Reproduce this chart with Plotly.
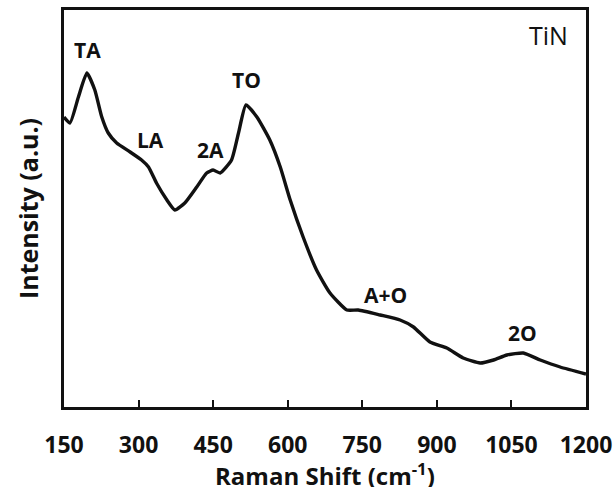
import plotly.graph_objects as go

# Raman shift (cm-1) and intensity (a.u.)
shift = [150, 162, 179, 196, 212, 226, 239, 256, 283, 306, 320, 336, 357, 373,
         393, 417, 437, 450, 464, 487, 501, 516, 538, 564, 585, 605, 631, 658,
         685, 719, 742, 786, 826, 853, 886, 920, 953, 987, 1014, 1041, 1074,
         1108, 1148, 1200]
intensity = [290, 284, 310, 334, 317, 290, 274, 264, 255, 247, 240, 224, 207, 197,
             204, 220, 234, 237, 234, 247, 274, 302, 290, 267, 240, 207, 170, 137,
             114, 97, 97, 92, 87, 80, 65, 59, 49, 44, 47, 52, 54,
             47, 40, 33]

peak_labels = ["TA", "LA", "2A", "TO", "A+O", "2O"]
peak_x = [198, 323, 444, 518, 796, 1073]
peak_y = [357, 267, 257, 327, 112, 74]

x_ticks = [150, 300, 450, 600, 750, 900, 1050, 1200]

FONT = "'Open Sans', Lato, sans-serif"
INK = "#111111"

fig = go.Figure()
fig.add_trace(go.Scatter(x=shift, y=intensity, mode="lines",
                         line=dict(color=INK, width=3.4, shape="spline", smoothing=0.5),
                         showlegend=False, hoverinfo="skip"))

for t, xv, yv in zip(peak_labels, peak_x, peak_y):
    fig.add_annotation(x=xv, y=yv, text="<b>%s</b>" % t, showarrow=False,
                       font=dict(family=FONT, size=21, color=INK))

fig.add_annotation(x=1124, y=372, text="TiN", showarrow=False,
                   font=dict(family=FONT, size=25, color=INK))

# x-axis title placed below the tick labels
fig.add_annotation(xref="paper", yref="paper", x=0.5, y=-0.169,
                   xanchor="center", yanchor="middle", showarrow=False,
                   text="<b>Raman Shift (cm<sup>-1</sup>)</b>",
                   font=dict(family=FONT, size=24, color=INK))

fig.update_layout(
    width=615, height=487,
    margin=dict(l=64, r=29, t=10, b=80),
    paper_bgcolor="white", plot_bgcolor="white",
    font=dict(family=FONT, color=INK),
    xaxis=dict(range=[150, 1200], tickvals=x_ticks,
               ticktext=["<b>%d</b>" % v for v in x_ticks],
               ticks="inside", ticklen=7, tickwidth=2, tickcolor=INK,
               showline=True, linewidth=3, linecolor=INK, mirror=True,
               showgrid=False, zeroline=False, automargin=False,
               tickfont=dict(family=FONT, size=23, color=INK),
               ticklabelstandoff=15),
    yaxis=dict(range=[0, 397], showticklabels=False, ticks="",
               showline=True, linewidth=3, linecolor=INK, mirror=True,
               showgrid=False, zeroline=False, automargin=False,
               title=dict(text="<b>Intensity (a.u.)</b>", standoff=16,
                          font=dict(family=FONT, size=25, color=INK))),
)

fig.write_html("out.html", config={"displayModeBar": False},
               post_script="document.body.style.margin='0';document.body.style.overflow='hidden';")
